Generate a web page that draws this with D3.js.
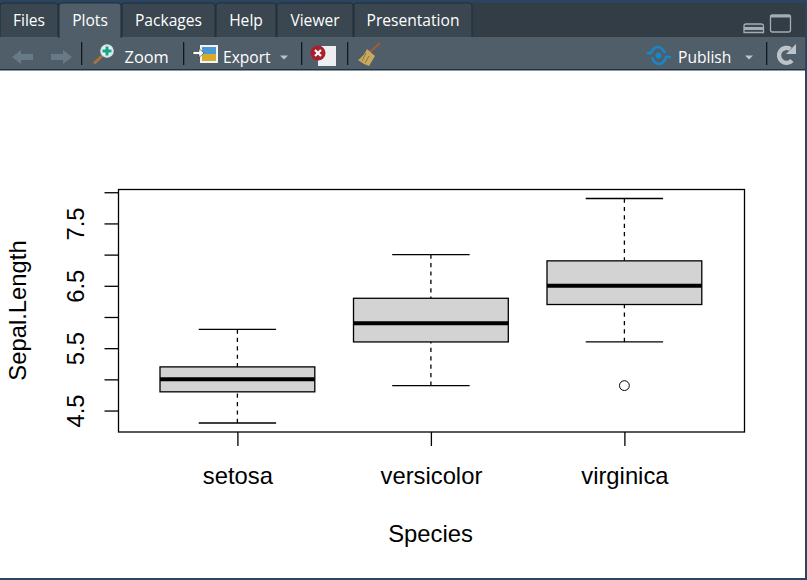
<!DOCTYPE html>
<html>
<head>
<meta charset="utf-8">
<script src="https://cdn.jsdelivr.net/npm/d3@7"></script>
<style>
  html, body { margin: 0; padding: 0; background: #fff; overflow: hidden; }
  svg { display: block; }
  .r text { font-family: "Liberation Sans", Arial, sans-serif; fill: #000; }
  .ui text { font-family: "Open Sans", "Noto Sans", sans-serif; fill: #fff; font-size: 15.6px; }
</style>
</head>
<body>
<script>
// Values
const species = ["setosa", "versicolor", "virginica"];
const whiskerLow = [4.3, 4.9, 5.6];
const q1 = [4.8, 5.6, 6.2];
const medians = [5.0, 5.9, 6.5];
const q3 = [5.2, 6.3, 6.9];
const whiskerHigh = [5.8, 7.0, 7.9];
const outlierGroup = [2];
const outlierValue = [4.9];
const yTicks = [4.5, 5, 5.5, 6, 6.5, 7, 7.5, 8];
const yLabelled = [4.5, 5.5, 6.5, 7.5];

const tabNames = ["Files", "Plots", "Packages", "Help", "Viewer", "Presentation"];
const tabEdges = [0, 59, 122, 216, 277, 354, 473];

const width = 807;
const height = 580;

const svg = d3
  .select("body")
  .append("svg")
  .attr("width", width)
  .attr("height", height);

svg.append("rect").attr("width", width).attr("height", height).attr("fill", "#fff");

// Set up the scales for the chart
const xScale = d3.scaleLinear().domain([-0.6145, 2.6207]).range([118.5, 744.5]);
const yScale = d3.scaleLinear().domain([4.156, 8.044]).range([432, 189.5]);

const chart = svg.append("g").attr("class", "r");
const lw = 1.3;

// Add the axes to the chart
const xAxis = chart
  .append("g")
  .attr("transform", "translate(0, 432)")
  .call(
    d3
      .axisBottom(xScale)
      .tickValues(species.map((d, i) => i))
      .tickFormat((i) => species[i])
      .tickSize(14)
      .tickPadding(21)
  );
xAxis.select(".domain").remove();
xAxis.selectAll("line").attr("stroke", "#000").attr("stroke-width", lw);
xAxis.selectAll("text").attr("font-size", 23.8).attr("font-family", null).attr("fill", "#000");

const yAxis = chart
  .append("g")
  .attr("transform", "translate(118.5, 0)")
  .call(
    d3
      .axisLeft(yScale)
      .tickValues(yTicks)
      .tickFormat((d) => (yLabelled.includes(d) ? d3.format(".1f")(d) : ""))
      .tickSize(14)
      .tickPadding(0)
  );
yAxis.select(".domain").remove();
yAxis.selectAll("line").attr("stroke", "#000").attr("stroke-width", lw);
yAxis
  .selectAll("text")
  .attr("font-size", 23.8)
  .attr("font-family", null)
  .attr("fill", "#000")
  .attr("text-anchor", "middle")
  .attr("dy", null)
  .attr("x", null)
  .attr("y", null)
  .attr("transform", "translate(-35, 0) rotate(-90)");

// Whiskers
const groups = chart
  .selectAll(".box")
  .data(species.map((d, i) => i))
  .enter()
  .append("g")
  .attr("class", "box");

groups
  .append("line")
  .attr("x1", (i) => xScale(i))
  .attr("x2", (i) => xScale(i))
  .attr("y1", (i) => yScale(whiskerLow[i]))
  .attr("y2", (i) => yScale(q1[i]))
  .attr("stroke", "#000")
  .attr("stroke-width", lw)
  .attr("stroke-dasharray", "4.2,4.2");

groups
  .append("line")
  .attr("x1", (i) => xScale(i))
  .attr("x2", (i) => xScale(i))
  .attr("y1", (i) => yScale(whiskerHigh[i]))
  .attr("y2", (i) => yScale(q3[i]))
  .attr("stroke", "#000")
  .attr("stroke-width", lw)
  .attr("stroke-dasharray", "4.2,4.2");

[whiskerLow, whiskerHigh].forEach((arr) => {
  groups
    .append("line")
    .attr("x1", (i) => xScale(i - 0.2))
    .attr("x2", (i) => xScale(i + 0.2))
    .attr("y1", (i) => yScale(arr[i]))
    .attr("y2", (i) => yScale(arr[i]))
    .attr("stroke", "#000")
    .attr("stroke-width", lw);
});

// Boxes and medians
groups
  .append("rect")
  .attr("x", (i) => xScale(i - 0.4))
  .attr("width", (i) => xScale(i + 0.4) - xScale(i - 0.4))
  .attr("y", (i) => yScale(q3[i]))
  .attr("height", (i) => yScale(q1[i]) - yScale(q3[i]))
  .attr("fill", "#d3d3d3")
  .attr("stroke", "#000")
  .attr("stroke-width", lw);

groups
  .append("line")
  .attr("x1", (i) => xScale(i - 0.4))
  .attr("x2", (i) => xScale(i + 0.4))
  .attr("y1", (i) => yScale(medians[i]))
  .attr("y2", (i) => yScale(medians[i]))
  .attr("stroke", "#000")
  .attr("stroke-width", 4);

// Outlier
chart
  .selectAll(".outlier")
  .data(outlierValue)
  .enter()
  .append("circle")
  .attr("class", "outlier")
  .attr("cx", (d, i) => xScale(outlierGroup[i]))
  .attr("cy", (d) => yScale(d))
  .attr("r", 4.9)
  .attr("fill", "none")
  .attr("stroke", "#000")
  .attr("stroke-width", 1);

// Plot frame
chart
  .append("rect")
  .attr("x", 118.5)
  .attr("y", 189.5)
  .attr("width", 626)
  .attr("height", 242.5)
  .attr("fill", "none")
  .attr("stroke", "#000")
  .attr("stroke-width", lw);

// Axis titles
chart
  .append("text")
  .attr("x", 430.5)
  .attr("y", 542)
  .attr("text-anchor", "middle")
  .attr("font-size", 23.8)
  .text("Species");

chart
  .append("text")
  .attr("transform", "translate(26, 310.5) rotate(-90)")
  .attr("text-anchor", "middle")
  .attr("font-size", 23.8)
  .text("Sepal.Length");

// RStudio pane chrome
const ui = svg.append("g").attr("class", "ui");

ui.append("rect").attr("width", width).attr("height", 70).attr("fill", "#2b4460");
ui.append("rect").attr("x", 0).attr("y", 3).attr("width", 805).attr("height", 34).attr("fill", "#323d46");
ui.append("rect").attr("x", 0).attr("y", 37).attr("width", 805).attr("height", 32).attr("fill", "#505e69");
ui.append("rect").attr("x", 0).attr("y", 69).attr("width", 807).attr("height", 1.5).attr("fill", "#1f3347");
ui.append("rect").attr("x", 805).attr("y", 0).attr("width", 2).attr("height", height).attr("fill", "#2b4460");
ui.append("rect").attr("x", 0).attr("y", 578).attr("width", width).attr("height", 2).attr("fill", "#2b4460");

tabNames.forEach((name, i) => {
  const x0 = tabEdges[i];
  const x1 = tabEdges[i + 1] - 1;
  const active = name === "Plots";
  ui.append("path")
    .attr("d", `M${x0},${active ? 38 : 37}V6Q${x0},3 ${x0 + 3},3H${x1 - 3}Q${x1},3 ${x1},6V${active ? 38 : 37}`)
    .attr("fill", active ? "#505e69" : "#3a4650")
    .attr("stroke", "#1f2e3c")
    .attr("stroke-width", 1);
  ui.append("text")
    .attr("x", (x0 + x1) / 2)
    .attr("y", 26)
    .attr("text-anchor", "middle")
    .text(name);
});

// Window buttons
const winGrey = "#a3adb4";
ui.append("path").attr("d", "M744,32.5V26Q744,24 746,24H761Q763.5,24 763.5,26V32.5Z").attr("fill", "#3a4650").attr("stroke", winGrey).attr("stroke-width", 1.3);
ui.append("rect").attr("x", 744).attr("y", 27).attr("width", 19.5).attr("height", 3).attr("fill", winGrey);
ui.append("rect").attr("x", 770.5).attr("y", 15).attr("width", 20).attr("height", 17).attr("rx", 2).attr("fill", "none").attr("stroke", winGrey).attr("stroke-width", 1.3);
ui.append("rect").attr("x", 770.5).attr("y", 15).attr("width", 20).attr("height", 2.5).attr("fill", winGrey);

// Toolbar separators
[81, 183, 301, 347, 766].forEach((x) => {
  ui.append("rect").attr("x", x).attr("y", 42).attr("width", 1.3).attr("height", 23).attr("fill", "#11181e");
});

// Back and forward arrows
ui.append("path").attr("d", "M12,57L21,50V54H33V60H21V64Z").attr("fill", "#687a88");
ui.append("path").attr("d", "M72,57L63,50V54H51V60H63V64Z").attr("fill", "#687a88");

// Zoom icon
ui.append("line").attr("x1", 94).attr("y1", 63.5).attr("x2", 102).attr("y2", 56).attr("stroke", "#a9743c").attr("stroke-width", 3);
ui.append("circle").attr("cx", 107).attr("cy", 51).attr("r", 6.2).attr("fill", "#e3f4f1").attr("stroke", "#d8dde0").attr("stroke-width", 1.2);
ui.append("path").attr("d", "M107,46.5V55.5M102.5,51H111.5").attr("stroke", "#17a589").attr("stroke-width", 3);
ui.append("text").attr("x", 124.5).attr("y", 63).attr("font-size", 16).style("font-size", "16.4px").text("Zoom");

// Export icon
ui.append("rect").attr("x", 200).attr("y", 45).attr("width", 18).attr("height", 18).attr("fill", "#f3f3f3");
ui.append("rect").attr("x", 202).attr("y", 47).attr("width", 14).attr("height", 7).attr("fill", "#4a9ad6");
ui.append("rect").attr("x", 202).attr("y", 54).attr("width", 14).attr("height", 7).attr("fill", "#d7ab2e");
ui.append("path").attr("d", "M193,51.5H199V48.5L204,53L199,57.5V54.5H193Z").attr("fill", "#fff").attr("stroke", "#2b3238").attr("stroke-width", 0.6);
ui.append("text").attr("x", 223).attr("y", 63).text("Export");
ui.append("path").attr("d", "M280,55.5H288L284,59.5Z").attr("fill", "#bcc4ca");

// Clear plot icon
ui.append("rect").attr("x", 318).attr("y", 46).attr("width", 18).attr("height", 20).attr("fill", "#eceeef");
ui.append("circle").attr("cx", 318).attr("cy", 53).attr("r", 7.5).attr("fill", "#a91f2b");
ui.append("path").attr("d", "M315,50L321,56M321,50L315,56").attr("stroke", "#fff").attr("stroke-width", 2.2);

// Broom icon
ui.append("line").attr("x1", 370).attr("y1", 52).attr("x2", 380).attr("y2", 43).attr("stroke", "#a85a32").attr("stroke-width", 2);
ui.append("path").attr("d", "M367,49L375,56L369,66Q363,64 358,60Q364,56 367,49Z").attr("fill", "#c9a860");
ui.append("path").attr("d", "M366,53L362,61M369,56L365,63").attr("stroke", "#8f7238").attr("stroke-width", 1);

// Publish
ui.append("path").attr("d", "M647,53H651Q654,47 658,47Q662,47 665,53").attr("fill", "none").attr("stroke", "#1488c8").attr("stroke-width", 2.6);
ui.append("path").attr("d", "M652,57Q654,64 659,64Q664,64 666,57H671").attr("fill", "none").attr("stroke", "#1488c8").attr("stroke-width", 2.6);
ui.append("circle").attr("cx", 658.5).attr("cy", 55.5).attr("r", 3).attr("fill", "#1488c8");
ui.append("text").attr("x", 678).attr("y", 63).text("Publish");
ui.append("path").attr("d", "M745,55.5H753L749,59.5Z").attr("fill", "#bcc4ca");

// Refresh icon
ui.append("path").attr("d", "M792,60.5A7.5,7.5 0 1 1 790.5,49").attr("fill", "none").attr("stroke", "#bcc4ca").attr("stroke-width", 4.4);
ui.append("path").attr("d", "M786,54H796V44Z").attr("fill", "#bcc4ca");
</script>
</body>
</html>
